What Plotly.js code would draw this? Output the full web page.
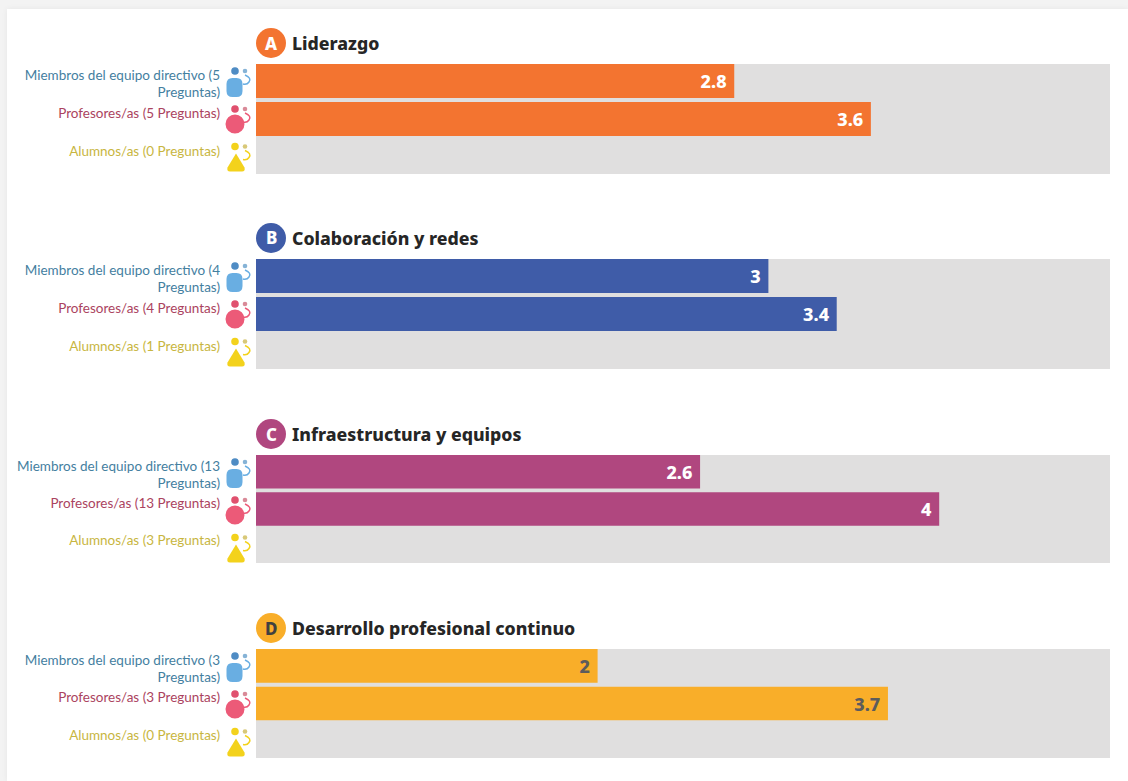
<!DOCTYPE html>
<html><head><meta charset="utf-8">
<script src="https://cdn.plot.ly/plotly-3.0.1.min.js"></script>
<style>
html,body{margin:0;padding:0;width:1128px;height:781px;overflow:hidden;background:#f3f3f3}
#card{position:absolute;left:7px;top:9px;right:0;bottom:0;background:#fff;box-shadow:0 0 6px rgba(0,0,0,.06)}
#chart{position:absolute;left:0;top:0;width:1128px;height:781px}
</style></head><body>
<div id="card"></div><div id="chart"></div>
<script>
var sections = ["Liderazgo","Colaboración y redes","Infraestructura y equipos","Desarrollo profesional continuo"];
var badges = ["A","B","C","D"];
var badgeColors = ["#f37430","#3f5ca8","#b0477f","#f9ae29"];
var badgeTextColors = ["#ffffff","#ffffff","#ffffff","#404040"];
var valueTextColors = ["#ffffff","#ffffff","#ffffff","#5c5c5c"];
var groups = ["Miembros del equipo directivo","Profesores/as","Alumnos/as"];
var groupColors = ["#44809f","#ab4360","#c8b63f"];
var scores = [[2.8,3.6,null],[3,3.4,null],[2.6,4,null],[2,3.7,null]];
var questionCounts = [[5,5,0],[4,4,1],[13,13,3],[3,3,0]];
var maxScore = 5;

var W=1128,H=781,L=256,R=1110,T=64,B=758;
var panelTops=[64,259,455,649], panelBottoms=[174,369,563,758];
function px(x){return (x-L)/(R-L);}
function py(y){return (B-y)/(B-T);}
function pt(x,y){return px(x)+','+py(y);}

var data=[],layout={
  width:W,height:H,paper_bgcolor:'rgba(0,0,0,0)',plot_bgcolor:'rgba(0,0,0,0)',
  margin:{l:L,r:W-R,t:T,b:H-B,pad:0},showlegend:false,barmode:'overlay',
  font:{family:'Lato, sans-serif'},
  xaxis:{range:[0,maxScore],domain:[0,1],visible:false,fixedrange:true},
  annotations:[],shapes:[]
};
function circle(cx,cy,r,col){
  layout.shapes.push({type:'circle',xref:'paper',yref:'paper',layer:'above',x0:px(cx-r),x1:px(cx+r),y0:py(cy+r),y1:py(cy-r),fillcolor:col,line:{width:0}});
}
function path(d,fill,stroke,sw){
  layout.shapes.push({type:'path',xref:'paper',yref:'paper',layer:'above',path:d,fillcolor:fill||'rgba(0,0,0,0)',line:{width:sw||0,color:stroke||'rgba(0,0,0,0)'}});
}
function drawIcon(i,top){
  var smallHead=['#86b3d6','#d98a98','#d8c878'][i], main=['#69aee2','#ec5a78','#f3d21c'][i], head=['#4f8cc4','#e0506e','#f3d21c'][i];
  circle(235,top+6,3.8,head);
  circle(245,top+6,2.3,smallHead);
  path('M'+pt(245,top+10)+' Q'+pt(252,top+13)+' '+pt(249,top+17)+' Q'+pt(247,top+20)+' '+pt(243,top+19),null,main,1.5);
  if(i===0){
    var a=226.5,b=242.5,t=top+13,u=top+32,r=6;
    path('M'+pt(a+r,t)+' L'+pt(b-r,t)+' Q'+pt(b,t)+' '+pt(b,t+r)+' L'+pt(b,u-r)+' Q'+pt(b,u)+' '+pt(b-r,u)+' L'+pt(a+r,u)+' Q'+pt(a,u)+' '+pt(a,u-r)+' L'+pt(a,t+r)+' Q'+pt(a,t)+' '+pt(a+r,t)+' Z',main);
  } else if(i===1){
    circle(235,top+21,9.5,main);
  } else {
    path('M'+pt(236,top+13)+' L'+pt(244.5,top+27)+' Q'+pt(245.5,top+31)+' '+pt(242,top+31)+' L'+pt(230,top+31)+' Q'+pt(226.5,top+31)+' '+pt(227.5,top+27)+' Z',main);
  }
}
sections.forEach(function(name,s){
  var ya=s===0?'y':'y'+(s+1), key=s===0?'yaxis':'yaxis'+(s+1);
  var idx=[0,1,2];
  var ticks=groups.map(function(g,i){
    var lab=g+' ('+questionCounts[s][i];
    if(i===0) lab+='<br>Preguntas)'; else lab+=' Preguntas)<br>&nbsp;';
    return '<span style="color:'+groupColors[i]+'">'+lab+'</span>';
  });
  layout[key]={domain:[py(panelBottoms[s]),py(panelTops[s])],range:[2.447,-0.447],anchor:'x',
    tickmode:'array',tickvals:idx,ticktext:ticks,ticklen:0,ticklabelstandoff:35,ticklabelshift:-3,
    showgrid:false,zeroline:false,showline:false,fixedrange:true,
    tickfont:{size:13.5,family:'Lato, sans-serif'}};
  data.push({type:'bar',orientation:'h',x:[maxScore,maxScore,maxScore],y:idx,yaxis:ya,xaxis:'x',width:1.03,
    marker:{color:'#e0dfdf',line:{width:0}},hoverinfo:'skip'});
  data.push({type:'bar',orientation:'h',x:scores[s],y:idx,yaxis:ya,xaxis:'x',width:0.895,
    marker:{color:badgeColors[s],line:{width:0}},
    text:scores[s].map(function(v){return v===null?'':v+'\u00a0';}),
    textposition:'inside',insidetextanchor:'end',textangle:0,constraintext:'none',
    textfont:{size:18,family:'Noto Sans, sans-serif',weight:800,color:valueTextColors[s]}});
  var cy=panelTops[s]-21;
  circle(271,cy,15,badgeColors[s]);
  layout.annotations.push({xref:'paper',yref:'paper',x:px(271),y:py(cy),text:badges[s],showarrow:false,xanchor:'center',yanchor:'middle',font:{size:17,weight:800,color:badgeTextColors[s],family:'Noto Sans, sans-serif'}});
  layout.annotations.push({xref:'paper',yref:'paper',x:px(290),y:py(cy),text:name,showarrow:false,xanchor:'left',yanchor:'middle',font:{size:17.7,weight:800,color:'#262626',family:'Noto Sans, sans-serif'}});
  [0,1,2].forEach(function(i){ drawIcon(i,panelTops[s]+[1,39,76.5][i]); });
});
Plotly.newPlot('chart',data,layout,{displayModeBar:false,responsive:false});
</script></body></html>
